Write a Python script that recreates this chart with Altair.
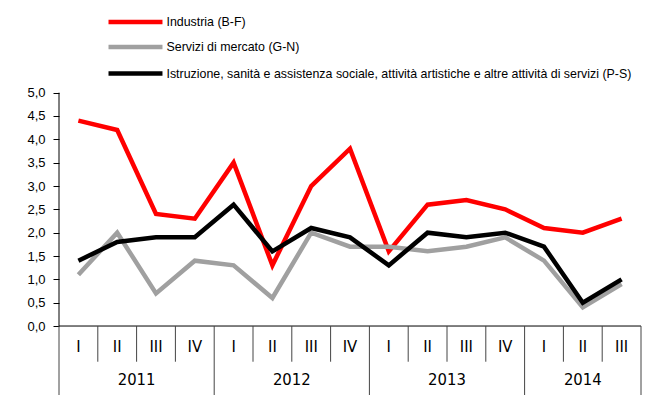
import altair as alt
import pandas as pd

# ---------------- data ----------------
years = ["2011"] * 4 + ["2012"] * 4 + ["2013"] * 4 + ["2014"] * 3
quarters = ["I", "II", "III", "IV"] * 3 + ["I", "II", "III"]
industria = [4.4, 4.2, 2.4, 2.3, 3.5, 1.3, 3.0, 3.8, 1.6, 2.6, 2.7, 2.5, 2.1, 2.0, 2.3]
servizi = [1.1, 2.0, 0.7, 1.4, 1.3, 0.6, 2.0, 1.7, 1.7, 1.6, 1.7, 1.9, 1.4, 0.4, 0.9]
istruzione = [1.4, 1.8, 1.9, 1.9, 2.6, 1.6, 2.1, 1.9, 1.3, 2.0, 1.9, 2.0, 1.7, 0.5, 1.0]
series_names = [
    "Industria (B-F)",
    "Servizi di mercato (G-N)",
    "Istruzione, sanità e assistenza sociale, attività artistiche e altre attività di servizi (P-S)",
]
series_values = [industria, servizi, istruzione]
series_colors = ["#FF0000", "#A0A0A0", "#000000"]
y_ticks = [0.0, 0.5, 1.0, 1.5, 2.0, 2.5, 3.0, 3.5, 4.0, 4.5, 5.0]

# ---------------- layout constants (data units of the y scale) ----------------
PX_PER_UNIT = 46.67
Y_MAX = 6.814
Y_MIN = -1.478
Q_SEP_BOTTOM = -0.765
Q_LABEL_Y = -0.45
YEAR_LABEL_Y = -1.16
LEG_ROWS = [6.514, 5.978, 5.41]
LEG_X0, LEG_X1, LEG_TX = 0.776, 2.167, 2.27

n = len(quarters)
X_DOMAIN = [-0.5, n - 0.5]
PLOT_W = 582
PLOT_H = round((Y_MAX - Y_MIN) * PX_PER_UNIT)

NARROW = "Liberation Sans Narrow, Arial Narrow, DejaVu Sans Condensed, sans-serif"
SANS = "Liberation Sans, Arial, sans-serif"

xscale = alt.Scale(domain=X_DOMAIN, nice=False, zero=False)
yscale = alt.Scale(domain=[Y_MIN, Y_MAX], nice=False, zero=False)
yaxis = alt.Axis(
    values=y_ticks,
    labelExpr="replace(format(datum.value, '.1f'), '.', ',')",
    domain=False,
    grid=False,
    ticks=True,
    tickSize=6,
    tickColor="#000000",
    tickWidth=1,
    labelPadding=8,
    labelFont=SANS,
    labelFontSize=13,
    labelColor="#000000",
    title=None,
)


def X(field):
    return alt.X(field, type="quantitative", scale=xscale, axis=None)


def Y(field):
    return alt.Y(field, type="quantitative", scale=yscale, axis=yaxis)


# ---------------- series lines ----------------
layers = []
for name, vals, col in zip(series_names, series_values, series_colors):
    d = pd.DataFrame({"idx": list(range(n)), "value": vals, "series": name,
                      "year": years, "quarter": quarters})
    layers.append(
        alt.Chart(d).mark_line(strokeWidth=4.5, color=col).encode(
            x=X("idx"), y=Y("value")
        )
    )

# ---------------- axes lines ----------------
yaxis_line = pd.DataFrame({"x": [X_DOMAIN[0]], "y": [0.0], "y2": [max(y_ticks)]})
xaxis_line = pd.DataFrame({"x": [X_DOMAIN[0]], "x2": [X_DOMAIN[1]], "y": [0.0]})
layers.append(alt.Chart(yaxis_line).mark_rule(color="#000000", strokeWidth=1).encode(
    x=X("x"), y=Y("y"), y2="y2"))
layers.append(alt.Chart(xaxis_line).mark_rule(color="#000000", strokeWidth=1).encode(
    x=X("x"), x2="x2", y=Y("y")))

# ---------------- category separators ----------------
q_sep = [i - 0.5 for i in range(1, n) if years[i] == years[i - 1]]
y_sep = [-0.5] + [i - 0.5 for i in range(1, n) if years[i] != years[i - 1]] + [n - 0.5]
qs = pd.DataFrame({"x": q_sep, "y": 0.0, "y2": Q_SEP_BOTTOM})
ys = pd.DataFrame({"x": y_sep, "y": 0.0, "y2": Y_MIN})
layers.append(alt.Chart(qs).mark_rule(color="#444444", strokeWidth=1).encode(
    x=X("x"), y=Y("y"), y2="y2"))
layers.append(alt.Chart(ys).mark_rule(color="#444444", strokeWidth=1).encode(
    x=X("x"), y=Y("y"), y2="y2"))

# ---------------- category labels ----------------
ql = pd.DataFrame({"x": list(range(n)), "label": quarters, "y": Q_LABEL_Y})
layers.append(alt.Chart(ql).mark_text(font=NARROW, fontSize=16.5, color="#000000",
                                      baseline="middle", align="center").encode(
    x=X("x"), y=Y("y"), text="label:N"))
year_list = list(dict.fromkeys(years))
year_centers = [sum(i for i in range(n) if years[i] == yv) / years.count(yv) for yv in year_list]
yl = pd.DataFrame({"x": year_centers, "label": year_list, "y": YEAR_LABEL_Y})
layers.append(alt.Chart(yl).mark_text(font=NARROW, fontSize=16.5, color="#000000",
                                      baseline="middle", align="center").encode(
    x=X("x"), y=Y("y"), text="label:N"))

# ---------------- legend ----------------
for name, col, ry in zip(series_names, series_colors, LEG_ROWS):
    ld = pd.DataFrame({"x": [LEG_X0], "x2": [LEG_X1], "tx": [LEG_TX], "y": [ry], "label": [name]})
    layers.append(alt.Chart(ld).mark_rule(color=col, strokeWidth=4.5).encode(
        x=X("x"), x2="x2", y=Y("y")))
    layers.append(alt.Chart(ld).mark_text(font=SANS, fontSize=12.4, color="#000000",
                                          align="left", baseline="middle").encode(
        x=X("tx"), y=Y("y"), text="label:N"))

chart = alt.layer(*layers).properties(
    width=PLOT_W,
    height=PLOT_H,
    padding={"left": 18, "top": 0, "right": 5, "bottom": 0},
    background="#FFFFFF",
).configure_view(stroke=None)

chart.save("out.html", embed_options={"renderer": "svg", "actions": False})
